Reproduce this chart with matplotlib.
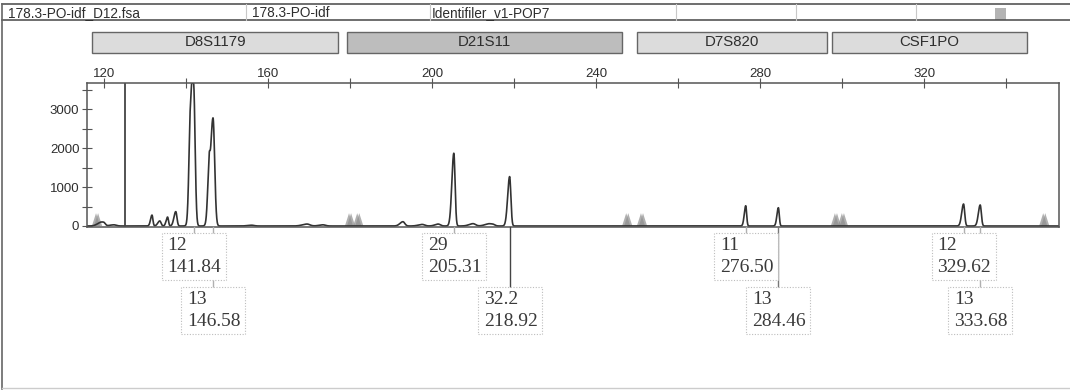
import numpy as np
import matplotlib
matplotlib.use("Agg")
import matplotlib.pyplot as plt
from matplotlib.patches import Rectangle, Polygon
from matplotlib.lines import Line2D
from matplotlib.ticker import MultipleLocator, FuncFormatter

# ---- sample header ----
header_texts = ["178.3-PO-idf_D12.fsa", "178.3-PO-idf", "Identifiler_v1-POP7"]

# ---- locus bins (bp ranges) ----
loci = ["D8S1179", "D21S11", "D7S820", "CSF1PO"]
locus_start = [117.1, 179.3, 250.0, 297.6]
locus_end = [177.1, 246.3, 296.3, 345.0]

# ---- trace peaks: size (bp), height (RFU), width (bp) ----
peak_bp = [118.9, 119.9, 122.4, 131.7, 133.6, 135.5, 137.5, 140.9, 141.3,
           141.84, 145.6, 146.58, 156.0, 169.5, 173.4, 192.9, 197.6, 201.5,
           205.31, 210.0, 213.6, 214.8, 218.92, 276.50, 284.46, 329.62, 333.68]
peak_rfu = [60, 90, 30, 280, 130, 230, 370, 1150, 1050,
            3650, 930, 2780, 20, 50, 30, 110, 40, 50,
            1870, 60, 40, 45, 1270, 520, 470, 565, 540]
peak_w = [0.5, 0.4, 0.6, 0.22, 0.3, 0.22, 0.28, 0.2, 0.2,
          0.36, 0.22, 0.4, 0.6, 0.7, 0.6, 0.45, 0.6, 0.5,
          0.3, 0.6, 0.6, 0.5, 0.3, 0.22, 0.22, 0.28, 0.28]

# ---- size-standard markers ----
marker_bp = [118.3, 180.0, 182.0, 247.6, 251.2, 298.5, 300.2, 349.3]

# ---- allele calls ----
allele_names = ["12", "13", "29", "32.2", "11", "13", "12", "13"]
allele_sizes = [141.84, 146.58, 205.31, 218.92, 276.50, 284.46, 329.62, 333.68]
allele_row = [0, 1, 0, 1, 0, 1, 0, 1]
allele_line_color = ["#b0b0b0", "#b0b0b0", "#b0b0b0", "#444444",
                     "#b0b0b0", "#777777", "#b0b0b0", "#b0b0b0"]

W, H = 1070, 390
fig = plt.figure(figsize=(W / 100, H / 100), dpi=100)
fig.patch.set_facecolor("white")


def fx(px):
    return px / W


def fy(py):
    return 1 - py / H


sans = "Liberation Sans"
serif = "Liberation Serif"
ink = "#2e2e2e"

# ---- outer frame and header row ----
for y in (4, 20):
    fig.add_artist(Line2D([fx(2), fx(1070)], [fy(y), fy(y)], color="#555555", lw=1.2))
fig.add_artist(Line2D([fx(2), fx(2)], [fy(4), fy(389)], color="#666666", lw=1.2))
fig.add_artist(Line2D([fx(2), fx(1070)], [fy(388), fy(388)], color="#cccccc", lw=1))
for x in (246, 430, 676, 796, 916):
    fig.add_artist(Line2D([fx(x), fx(x)], [fy(4), fy(20)], color="#c8c8c8", lw=0.8))
for x, t in zip((8, 252, 432), header_texts):
    fig.text(fx(x), fy(13), t, fontsize=9.8, family=sans, color=ink, va="center", ha="left")
fig.add_artist(Rectangle((fx(995), fy(20)), fx(11), 12 / H, facecolor="#b4b4b4",
                         edgecolor="none", transform=fig.transFigure))

# ---- main axes ----
ax = fig.add_axes([fx(87), fy(227), fx(1059 - 87), (227 - 83) / H])
ax.set_xlim(115.85, 352.9)
ax.set_ylim(-26, 3676)

x = np.linspace(115.85, 352.9, 12000)
y = np.zeros_like(x)
for p, h, w in zip(peak_bp, peak_rfu, peak_w):
    sig = np.where(x < p, w * 1.6, w)
    y += h * np.exp(-0.5 * ((x - p) / sig) ** 2)
ax.plot(x, y, color="#333333", lw=1.2, clip_on=True)

ax.axvline(125.1, color="#444444", lw=1.3)

for m in marker_bp:
    for dx in (-0.25, 0.25):
        ax.add_patch(Polygon([(m + dx - 1.0, 0), (m + dx, 330), (m + dx + 1.0, 0)],
                             closed=True, facecolor="#8f8f8f", edgecolor="none", alpha=0.7))

for s in ax.spines.values():
    s.set_color("#555555")
    s.set_linewidth(1.1)

ax.xaxis.tick_top()
ax.xaxis.set_major_locator(MultipleLocator(20))
ax.xaxis.set_major_formatter(FuncFormatter(lambda v, _: f"{int(v)}" if int(round(v)) % 40 == 0 else ""))
ax.yaxis.set_major_locator(MultipleLocator(500))
ax.yaxis.set_major_formatter(FuncFormatter(lambda v, _: f"{int(v)}" if int(round(v)) % 1000 == 0 else ""))
ax.tick_params(axis="x", direction="inout", length=7, width=0.8, color="#555555",
               labelsize=9.5, labelcolor=ink, pad=-1)
ax.tick_params(axis="y", direction="inout", length=7, width=0.8, color="#555555",
               labelsize=9.5, labelcolor=ink, pad=2)
for lab in ax.get_xticklabels() + ax.get_yticklabels():
    lab.set_family(sans)

fig.canvas.draw()


def bp_to_fx(bp):
    disp = ax.transData.transform((bp, 0))
    return fig.transFigure.inverted().transform(disp)[0]


# ---- locus bin boxes ----
for name, a, b in zip(loci, locus_start, locus_end):
    x0, x1 = bp_to_fx(a), bp_to_fx(b)
    fc = "#bdbdbd" if name == "D21S11" else "#dcdcdc"
    fig.add_artist(Rectangle((x0, fy(53)), x1 - x0, 21 / H, facecolor=fc,
                             edgecolor="#666666", lw=1, transform=fig.transFigure))
    fig.text((x0 + x1) / 2, fy(42.5), name, fontsize=10.8, family=sans, color=ink,
             ha="center", va="center")

# ---- allele call boxes ----
row_top = [233, 287]
box_w, box_h = 64, 47
for i in range(len(allele_sizes)):
    cx = bp_to_fx(allele_sizes[i])
    top = row_top[allele_row[i]]
    fig.add_artist(Line2D([cx, cx], [fy(227), fy(top)], color=allele_line_color[i], lw=1))
for i in range(len(allele_sizes)):
    cx = bp_to_fx(allele_sizes[i])
    top = row_top[allele_row[i]]
    left = cx - fx(box_w / 2)
    fig.add_artist(Rectangle((left, fy(top + box_h)), fx(box_w), box_h / H,
                             facecolor="white", edgecolor="#bdbdbd", lw=0.8,
                             linestyle=(0, (1, 1.5)), transform=fig.transFigure,
                             zorder=3))
    fig.text(left + fx(6), fy(top + 12), allele_names[i], fontsize=14, family=serif,
             color="#3a3a3a", ha="left", va="center", zorder=4)
    fig.text(left + fx(6), fy(top + 35), f"{allele_sizes[i]:.2f}", fontsize=14,
             family=serif, color="#3a3a3a", ha="left", va="center", zorder=4)

fig.savefig("out.png", dpi=100, facecolor="white")
